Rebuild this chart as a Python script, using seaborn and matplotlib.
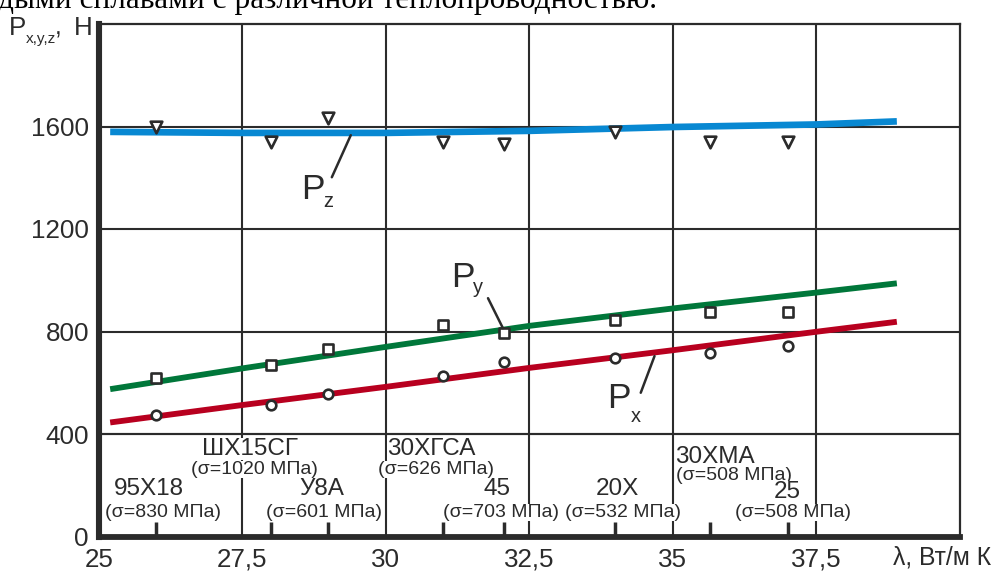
import matplotlib
matplotlib.use("Agg")
import matplotlib.pyplot as plt
from matplotlib import font_manager
import pandas as pd
import seaborn as sns

# ---- data -------------------------------------------------------------
# thermal conductivity of the tested steels, W/(m K)
lam = [26.0, 28.0, 29.0, 31.0, 32.05, 34.0, 35.65, 37.0]
grades = ["95Х18", "ШХ15СГ", "У8А", "30ХГСА", "45", "20Х", "30ХМА", "25"]
sigma = [830, 1020, 601, 626, 703, 532, 508, 508]

# measured cutting force components, N
pz_meas = [1598, 1540, 1635, 1540, 1531, 1579, 1540, 1540]
py_meas = [619, 669, 730, 825, 793, 844, 877, 877]
px_meas = [474, 513, 555, 627, 682, 697, 715, 743]

# approximating curves
fit_lam = [25.2, 27.5, 30.0, 32.5, 35.0, 37.5, 38.9]
pz_fit = [1579, 1575, 1575, 1583, 1598, 1608, 1620]
py_fit = [575, 656, 740, 822, 890, 952, 988]
px_fit = [445, 513, 584, 658, 727, 799, 838]

x_ticks = [25, 27.5, 30, 32.5, 35, 37.5]
x_tick_labels = ["25", "27,5", "30", "32,5", "35", "37,5"]
y_ticks = [0, 400, 800, 1200, 1600]

# ---- style ------------------------------------------------------------
sns.set_style("white")
names = {f.name for f in font_manager.fontManager.ttflist}
NARROW = "Liberation Sans Narrow" if "Liberation Sans Narrow" in names else "Liberation Sans"
K = 1.0 if NARROW == "Liberation Sans Narrow" else 0.85
plt.rcParams["font.family"] = [NARROW, "DejaVu Sans"]

INK = "#2b2b2b"
BLUE, GREEN, RED = "#0888d2", "#00773a", "#b8001f"

W, H = 1005, 572
fig = plt.figure(figsize=(W / 100, H / 100), dpi=100)
ax = fig.add_axes([98.7 / W, 1 - 536.5 / H, (960 - 98.7) / W, (536.5 - 24) / H])

meas = pd.DataFrame({"lam": lam * 3,
                     "P": pz_meas + py_meas + px_meas,
                     "comp": ["z"] * 8 + ["y"] * 8 + ["x"] * 8})
fits = pd.DataFrame({"lam": fit_lam * 3,
                     "P": pz_fit + py_fit + px_fit,
                     "comp": ["z"] * 7 + ["y"] * 7 + ["x"] * 7})

for comp, col, lw in (("z", BLUE, 4.8), ("y", GREEN, 4.2), ("x", RED, 4.2)):
    sns.lineplot(data=fits[fits.comp == comp], x="lam", y="P", color=col,
                 lw=lw, sort=False, estimator=None, ax=ax, zorder=2,
                 solid_capstyle="butt")

for comp, mk, s in (("z", "v", 70), ("y", "s", 46), ("x", "o", 48)):
    sns.scatterplot(data=meas[meas.comp == comp], x="lam", y="P", marker=mk,
                    s=s, facecolor="white", edgecolor=INK, linewidth=1.9,
                    ax=ax, zorder=4, legend=False)

ax.set_xlim(25, 40)
ax.set_ylim(0, 2000)
ax.set_xticks(x_ticks)
ax.set_xticklabels(x_tick_labels)
ax.set_yticks(y_ticks)
ax.set_xticks(lam, minor=True)
ax.set_xlabel("")
ax.set_ylabel("")
ax.set_axisbelow(True)
ax.grid(True, which="major", color=INK, lw=1.5)
ax.tick_params(axis="both", which="major", length=0, labelsize=22 * K, colors=INK)
ax.tick_params(axis="x", which="major", pad=8)
ax.tick_params(axis="y", which="major", pad=7)
ax.tick_params(axis="x", which="minor", direction="in", length=11, width=2.5,
               color=INK, bottom=True)
for side, lw in (("left", 4.4), ("bottom", 4.2), ("top", 1.6), ("right", 1.6)):
    ax.spines[side].set_color(INK)
    ax.spines[side].set_linewidth(lw)
    ax.spines[side].set_capstyle("projecting")

# steel grade captions along the bottom
name_pos = [(25.88, 162), (27.64, 318), (28.89, 162), (30.80, 318),
            (31.94, 162), (34.03, 162), (35.73, 287), (36.99, 150)]
sig_pos = [(26.12, 76), (27.72, 244), (28.92, 76), (30.87, 244),
           (32.01, 76), (34.13, 76), (36.06, 220), (37.09, 76)]
box = dict(facecolor="white", edgecolor="none", pad=0.3)
for g, s, (nx, ny), (sx, sy) in zip(grades, sigma, name_pos, sig_pos):
    ax.text(nx, ny, g, ha="center", va="baseline", fontsize=20.5 * K,
            color=INK, zorder=3, bbox=box)
    ax.text(sx, sy, f"(σ={s} МПа)", ha="center", va="baseline",
            fontsize=16.5 * K, color=INK, zorder=3, bbox=box)
ax.axhline(400, color=INK, lw=1.5, zorder=3.5)

# curve captions with leader lines
captions = [("z", (28.52, 1316), (28.91, 1285), [(29.39, 29.06), (1566, 1402)]),
            ("y", (31.14, 973), (31.52, 950), [(31.78, 32.04), (930, 813)]),
            ("x", (33.86, 501), (34.26, 447), [(34.68, 34.44), (704, 561)])]
for sub, (px, py), (sx, sy), (lx, ly) in captions:
    ax.text(px, py, "P", ha="left", va="baseline", fontsize=30 * K, color=INK, zorder=5)
    ax.text(sx, sy, sub, ha="left", va="baseline", fontsize=17 * K, color=INK, zorder=5)
    ax.plot(lx, ly, color=INK, lw=1.8, zorder=5)


def ftext(x, y, s, **kw):
    fig.text(x / W, 1 - y / H, s, color=INK, **kw)


# axis titles
ftext(9, 35, "P", fontsize=22 * K, ha="left", va="baseline")
ftext(26, 43, "x,y,z", fontsize=13 * K, ha="left", va="baseline")
ftext(55, 35, ",", fontsize=21 * K, ha="left", va="baseline")
ftext(74, 35, "Н", fontsize=22 * K, ha="left", va="baseline")
ftext(942, 558, "λ, Вт/м К", fontsize=21 * K, ha="center", va="center")

# tail of the preceding caption line
fig.text(-0.002, 1 - 8 / H, "дыми сплавами с различной теплопроводностью.",
         family=["Liberation Serif", "DejaVu Serif"], fontsize=22.5, color="black",
         ha="left", va="baseline")

fig.savefig("out.png", dpi=100)
